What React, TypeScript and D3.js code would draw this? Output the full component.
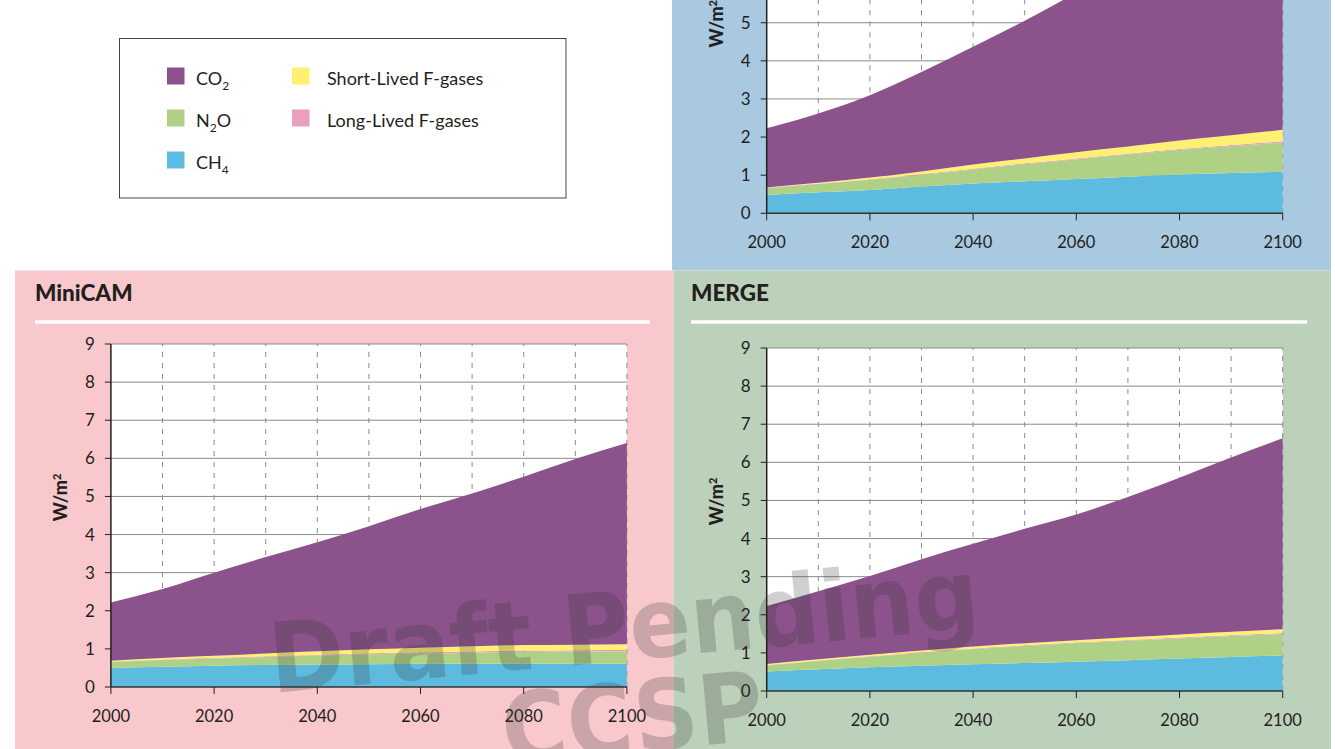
import React from "react";
import * as d3 from "d3";

// Decadal years of the scenarios
const years = [2000, 2010, 2020, 2030, 2040, 2050, 2060, 2070, 2080, 2090, 2100];

// Radiative forcing by gas, W/m² (stacked from bottom: CH4, N2O, long-lived F, short-lived F, CO2)
const igsmCH4 = [0.48, 0.55, 0.61, 0.7, 0.78, 0.84, 0.9, 0.96, 1.02, 1.06, 1.09];
const igsmN2O = [0.18, 0.22, 0.27, 0.31, 0.37, 0.45, 0.52, 0.58, 0.64, 0.7, 0.77];
const igsmLLF = [0.01, 0.01, 0.015, 0.02, 0.02, 0.02, 0.02, 0.025, 0.025, 0.03, 0.03];
const igsmSLF = [0.01, 0.02, 0.045, 0.07, 0.11, 0.13, 0.16, 0.185, 0.225, 0.26, 0.3];
const igsmCO2 = [1.55, 1.82, 2.16, 2.61, 3.09, 3.61, 4.18, 4.7, 5.19, 5.7, 6.21];

const minicamCH4 = [0.5, 0.53, 0.56, 0.58, 0.59, 0.6, 0.61, 0.61, 0.61, 0.61, 0.61];
const minicamN2O = [0.16, 0.18, 0.19, 0.21, 0.23, 0.26, 0.27, 0.29, 0.31, 0.32, 0.33];
const minicamLLF = [0.01, 0.01, 0.015, 0.02, 0.02, 0.025, 0.03, 0.03, 0.035, 0.035, 0.04];
const minicamSLF = [0.02, 0.04, 0.055, 0.07, 0.1, 0.105, 0.12, 0.14, 0.145, 0.145, 0.14];
const minicamCO2 = [1.53, 1.81, 2.18, 2.53, 2.86, 3.23, 3.64, 4.01, 4.42, 4.87, 5.28];

const mergeCH4 = [0.51, 0.57, 0.62, 0.66, 0.7, 0.735, 0.77, 0.81, 0.85, 0.89, 0.93];
const mergeN2O = [0.16, 0.22, 0.28, 0.34, 0.4, 0.445, 0.48, 0.51, 0.53, 0.55, 0.56];
const mergeLLF = [0.01, 0.01, 0.01, 0.015, 0.015, 0.02, 0.02, 0.02, 0.025, 0.025, 0.03];
const mergeSLF = [0.03, 0.035, 0.04, 0.045, 0.05, 0.055, 0.06, 0.07, 0.08, 0.09, 0.1];
const mergeCO2 = [1.52, 1.78, 2.07, 2.4, 2.7, 3.0, 3.3, 3.68, 4.11, 4.57, 5.01];

const yTicks = [0, 1, 2, 3, 4, 5, 6, 7, 8, 9];
const xTicks = [2000, 2020, 2040, 2060, 2080, 2100];
const xGrid = [2010, 2020, 2030, 2040, 2050, 2060, 2070, 2080, 2090, 2100];

const gasKeys = ["CH4", "N2O", "LLF", "SLF", "CO2"];
const gasColors: Record<string, string> = {
  CO2: "#8b528b",
  N2O: "#afd186",
  CH4: "#5ebbe0",
  SLF: "#fef172",
  LLF: "#e8a0bc",
};

const FONT = "Lato, 'Open Sans', sans-serif";
const INK = "#231f20";

type Series = Record<string, number[]>;

function StackChart({ x0, y0, series }: { x0: number; y0: number; series: Series }) {
  const x = d3.scaleLinear().domain([2000, 2100]).range([x0, x0 + 516]);
  const y = d3.scaleLinear().domain([0, 9]).range([y0, y0 - 343]);
  const rows = years.map((yr, i) => {
    const r: any = { year: yr };
    gasKeys.forEach((k) => (r[k] = series[k][i]));
    return r;
  });
  const stacked = d3.stack().keys(gasKeys)(rows);
  const area = d3
    .area<any>()
    .x((d) => x(d.data.year))
    .y0((d) => y(d[0]))
    .y1((d) => y(d[1]))
    .curve(d3.curveMonotoneX);

  return (
    <g>
      <rect x={x(2000)} y={y(9)} width={x(2100) - x(2000)} height={y(0) - y(9)} fill="#fff" />
      {yTicks.slice(1).map((t) => (
        <line key={"h" + t} x1={x(2000)} x2={x(2100)} y1={y(t)} y2={y(t)} stroke="#8a8a8a" strokeWidth={1} />
      ))}
      {xGrid.map((t) => (
        <line key={"v" + t} x1={x(t)} x2={x(t)} y1={y(0)} y2={y(9)} stroke="#8a8a8a" strokeWidth={1} strokeDasharray="5,6" />
      ))}
      {stacked.map((s) => (
        <path key={s.key} d={area(s as any) || ""} fill={gasColors[s.key]} />
      ))}
      {/* left axis */}
      <line x1={x(2000)} x2={x(2000)} y1={y(0)} y2={y(9)} stroke={INK} strokeWidth={1.5} />
      {yTicks.map((t) => (
        <g key={"yt" + t}>
          <line x1={x(2000) - 6} x2={x(2000)} y1={y(t)} y2={y(t)} stroke={INK} strokeWidth={1} />
          <text x={x(2000) - 16} y={y(t) + 6} textAnchor="end" fontFamily={FONT} fontSize={17} fill={INK}>
            {t}
          </text>
        </g>
      ))}
      {/* bottom axis */}
      <line x1={x(2000)} x2={x(2100)} y1={y(0)} y2={y(0)} stroke="#333" strokeWidth={1.5} />
      {xTicks.map((t) => (
        <g key={"xt" + t}>
          <line x1={x(t)} x2={x(t)} y1={y(0)} y2={y(0) + 7} stroke={INK} strokeWidth={1} />
          <text x={x(t)} y={y(0) + 35} textAnchor="middle" fontFamily={FONT} fontSize={16.5} fill={INK}>
            {t}
          </text>
        </g>
      ))}
      <text
        transform={`translate(${x(2000) - 44},${(y(0) + y(9)) / 2 - 18}) rotate(-90)`}
        textAnchor="middle"
        fontFamily={FONT}
        fontWeight={900}
        fontSize={18}
        fill={INK}
      >
        W/m<tspan dy={-6} fontSize={11}>2</tspan>
      </text>
    </g>
  );
}

function Legend() {
  const items = [
    { key: "CO2", col: 0, row: 0 },
    { key: "N2O", col: 0, row: 1 },
    { key: "CH4", col: 0, row: 2 },
    { key: "SLF", col: 1, row: 0 },
    { key: "LLF", col: 1, row: 1 },
  ];
  const label = (k: string) => {
    const sub = { dy: 5, fontSize: 12 };
    if (k === "CO2") return (<>CO<tspan {...sub}>2</tspan></>);
    if (k === "N2O") return (<>N<tspan {...sub}>2</tspan><tspan dy={-5}>O</tspan></>);
    if (k === "CH4") return (<>CH<tspan {...sub}>4</tspan></>);
    if (k === "SLF") return "Short-Lived F-gases";
    return "Long-Lived F-gases";
  };
  return (
    <g>
      <rect x={119.5} y={38.5} width={446.5} height={159.5} fill="#fff" stroke="#444" strokeWidth={1} />
      {items.map((it) => {
        const sx = it.col === 0 ? 167 : 292;
        const tx = it.col === 0 ? 196 : 327;
        const sy = 67.5 + it.row * 42;
        return (
          <g key={it.key}>
            <rect x={sx} y={sy} width={17.5} height={17} fill={gasColors[it.key]} />
            <text x={tx} y={sy + 17} fontFamily={FONT} fontSize={18} fill={INK}>
              {label(it.key)}
            </text>
          </g>
        );
      })}
    </g>
  );
}

function PanelTitle({ x, text, lineEnd }: { x: number; text: string; lineEnd: number }) {
  return (
    <g>
      <text x={x} y={301} fontFamily={FONT} fontWeight={900} fontSize={22.5} fill={INK}>
        {text}
      </text>
      <line x1={x} x2={lineEnd} y1={322} y2={322} stroke="#fff" strokeWidth={3.5} />
    </g>
  );
}

export default function App() {
  const igsm: Series = { CH4: igsmCH4, N2O: igsmN2O, LLF: igsmLLF, SLF: igsmSLF, CO2: igsmCO2 };
  const minicam: Series = { CH4: minicamCH4, N2O: minicamN2O, LLF: minicamLLF, SLF: minicamSLF, CO2: minicamCO2 };
  const merge: Series = { CH4: mergeCH4, N2O: mergeN2O, LLF: mergeLLF, SLF: mergeSLF, CO2: mergeCO2 };
  return (
    <svg
      width={1335}
      height={749}
      style={{ position: "absolute", left: 0, top: 0, background: "#fff" }}
    >
      <rect x={0} y={0} width={1335} height={749} fill="#fff" />
      {/* panel backgrounds */}
      <rect x={672} y={0} width={659} height={270.5} fill="#a9c9e1" />
      <rect x={15} y={270.5} width={658.5} height={478.5} fill="#f8c8cc" />
      <rect x={673.5} y={270.5} width={657.5} height={478.5} fill="#bbd1b9" />

      <Legend />

      <StackChart x0={766.7} y0={213.3} series={igsm} />

      <PanelTitle x={35} text="MiniCAM" lineEnd={650} />
      <StackChart x0={110.9} y0={687} series={minicam} />

      <PanelTitle x={691} text="MERGE" lineEnd={1307} />
      <StackChart x0={766.7} y0={691} series={merge} />

      {/* draft watermark */}
      <g transform="translate(627,660) rotate(-5.3)" pointerEvents="none">
        <text
          x={0}
          y={0}
          textAnchor="middle"
          fontFamily="'DejaVu Sans', sans-serif"
          fontWeight={700}
          fontSize={97}
          fill="#333"
          fillOpacity={0.23}
          textLength={712}
          lengthAdjust="spacingAndGlyphs"
        >
          Draft Pending
        </text>
        <text
          x={0}
          y={92}
          textAnchor="middle"
          fontFamily="'DejaVu Sans', sans-serif"
          fontWeight={700}
          fontSize={97}
          fill="#333"
          fillOpacity={0.23}
          textLength={262}
          lengthAdjust="spacingAndGlyphs"
        >
          CCSP
        </text>
      </g>
    </svg>
  );
}
